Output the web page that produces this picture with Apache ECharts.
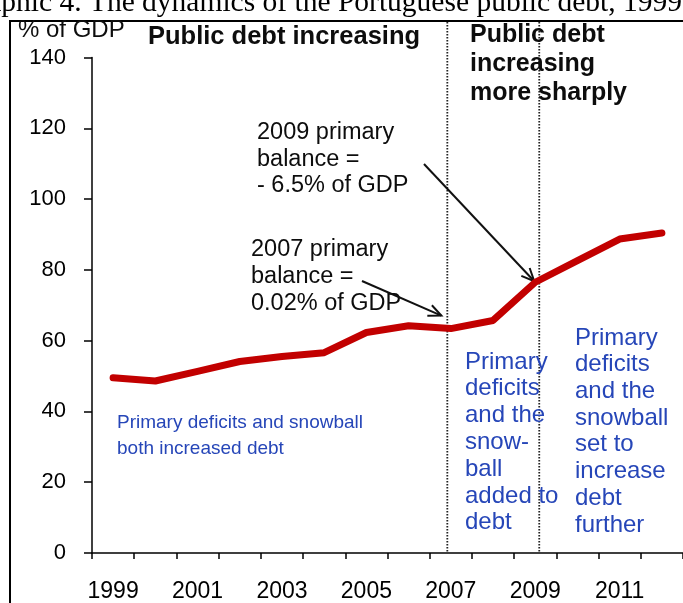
<!DOCTYPE html>
<html><head><meta charset="utf-8">
<script src="https://cdn.jsdelivr.net/npm/echarts@6/dist/echarts.min.js"></script>
<style>html,body{margin:0;padding:0;background:#fff}#c{width:683px;height:603px}</style>
</head><body><div id="c"></div>
<script>
// ---- data ----
const years = ['1999','2000','2001','2002','2003','2004','2005','2006','2007','2008','2009','2010','2011','2012'];
const debtPctGDP = [49.5, 48.6, 51.3, 54.1, 55.5, 56.6, 62.3, 64.2, 63.4, 65.7, 76.5, 82.6, 88.7, 90.4];
const yMin = 0, yMax = 140, yStep = 20;
const yAxisTitle = '% of GDP';
const phaseTitles = ['Public debt increasing', 'Public debt', 'increasing', 'more sharply'];
const note2009 = ['2009 primary', 'balance =', '- 6.5% of GDP'];
const note2007 = ['2007 primary', 'balance =', '0.02% of GDP'];
const blueLeft = ['Primary deficits and snowball', 'both increased debt'];
const blueMid = ['Primary', 'deficits', 'and the', 'snow-', 'ball', 'added to', 'debt'];
const blueRight = ['Primary', 'deficits', 'and the', 'snowball', 'set to', 'increase', 'debt', 'further'];
const caption = 'Graphic 4. The dynamics of the Portuguese public debt, 1999-2012';

const SANS = '"Liberation Sans", Arial, sans-serif';
const chart = echarts.init(document.getElementById('c'), null, {renderer: 'canvas'});

chart.setOption({
  animation: false,
  backgroundColor: '#fff',
  grid: {left: 92, right: -18, top: 57.5, bottom: 47.5, containLabel: false},
  xAxis: {
    type: 'category', data: years, boundaryGap: true,
    axisLine: {lineStyle: {color: '#000', width: 1.5}},
    axisTick: {show: true, length: 6, interval: 0, lineStyle: {color: '#000', width: 1.5}},
    axisLabel: {interval: 1, margin: 27, fontSize: 23, color: '#000', fontFamily: SANS}
  },
  yAxis: {
    type: 'value', min: yMin, max: yMax, interval: yStep,
    splitLine: {show: false},
    axisLine: {show: true, lineStyle: {color: '#000', width: 1.5}},
    axisTick: {show: true, length: 8, lineStyle: {color: '#000', width: 1.5}},
    axisLabel: {margin: 26, fontSize: 22, color: '#000', fontFamily: SANS}
  },
  series: [{
    type: 'line', data: debtPctGDP, symbol: 'none', clip: false,
    lineStyle: {color: '#c20000', width: 7, join: 'round', cap: 'round'}
  }]
});

function textLines(x, y0, dy, arr, font, color) {
  return arr.map((t, i) => ({
    type: 'text', x: x, y: y0 + i * dy, silent: true,
    style: {text: t, x: 0, y: 0, font: font, fill: color, textAlign: 'left', textVerticalAlign: 'middle'}
  }));
}
function arrow(x1, y1, x2, y2) {
  const a = Math.atan2(y2 - y1, x2 - x1), L = 14, w = 0.42;
  return [
    {type: 'line', silent: true, shape: {x1, y1, x2, y2}, style: {stroke: '#111', lineWidth: 2}},
    {type: 'polyline', silent: true, shape: {points: [
      [x2 - L * Math.cos(a - w), y2 - L * Math.sin(a - w)], [x2, y2],
      [x2 - L * Math.cos(a + w), y2 - L * Math.sin(a + w)]]},
     style: {stroke: '#111', lineWidth: 2, fill: null}}
  ];
}

const p07 = chart.convertToPixel({xAxisIndex: 0, yAxisIndex: 0}, ['2007', debtPctGDP[8]]);
const p09 = chart.convertToPixel({xAxisIndex: 0, yAxisIndex: 0}, ['2009', debtPctGDP[10]]);
const axisY = chart.convertToPixel({yAxisIndex: 0}, 0);
const BLUE = '#2646b8', DARK = '#0d0d0d';

let g = [];
g.push({type: 'rect', silent: true, shape: {x: 10, y: 21, width: 720, height: 700}, style: {stroke: '#000', lineWidth: 2, fill: null}});
g.push({type: 'text', x: -43, y: 3, silent: true, style: {text: caption, font: '29.5px "Liberation Serif", "Times New Roman", serif', fill: '#000', textVerticalAlign: 'middle'}});
[p07[0] - 3.5, p09[0] + 4].forEach(x => g.push({type: 'line', silent: true, shape: {x1: x, y1: 22, x2: x, y2: axisY}, style: {stroke: '#222', lineWidth: 1.8, lineDash: [1.5, 1.5]}}));
g = g.concat(textLines(18, 30, 0, [yAxisTitle], '24px ' + SANS, DARK));
g = g.concat(textLines(148, 37, 0, [phaseTitles[0]], 'bold 25.5px ' + SANS, DARK));
g = g.concat(textLines(470, 35, 29, phaseTitles.slice(1), 'bold 25px ' + SANS, DARK));
g = g.concat(textLines(257, 133, 26.5, note2009, '23.5px ' + SANS, DARK));
g = g.concat(textLines(251, 250, 27, note2007, '23.5px ' + SANS, DARK));
g = g.concat(textLines(117, 423, 26, blueLeft, '19px ' + SANS, BLUE));
g = g.concat(textLines(465, 362, 26.8, blueMid, '24px ' + SANS, BLUE));
g = g.concat(textLines(575, 338, 26.7, blueRight, '24px ' + SANS, BLUE));
g = g.concat(arrow(424, 164, p09[0] - 1, p09[1] - 1));
g = g.concat(arrow(362, 281, p07[0] - 9.5, p07[1] - 13));
chart.setOption({graphic: {elements: g}});
</script></body></html>
